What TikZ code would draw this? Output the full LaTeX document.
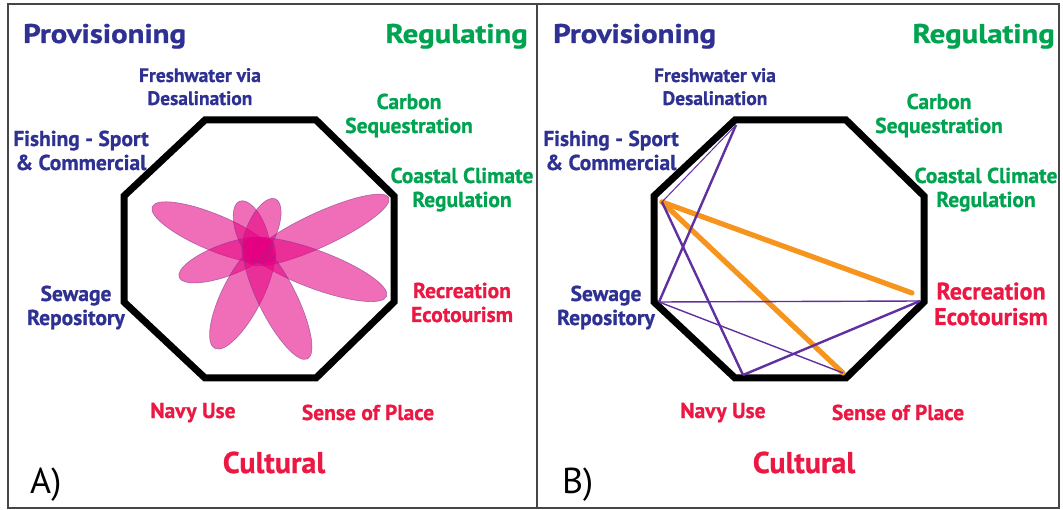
\documentclass[tikz,border=0pt]{standalone}
\usepackage{fontspec}
\setmainfont{PT Sans}[BoldFeatures={FakeBold=0.8}]
\definecolor{provblue}{RGB}{46,49,146}
\definecolor{reggreen}{RGB}{0,163,80}
\definecolor{cultred}{RGB}{236,24,68}
\definecolor{linepurple}{RGB}{96,48,160}
\definecolor{lineorange}{RGB}{247,148,29}
\definecolor{petalfill}{RGB}{230,0,130}
\definecolor{petaledge}{RGB}{120,60,140}
\definecolor{framegray}{RGB}{70,70,70}
\begin{document}
\begin{tikzpicture}[x=1pt,y=-1pt,
  lbl/.style={font=\fontsize{21.5}{24}\selectfont\bfseries, align=center, anchor=base, inner sep=0pt},
  smlbl/.style={font=\fontsize{19.5}{23}\selectfont\bfseries, align=center, anchor=base, inner sep=0pt},
  bigr/.style={font=\fontsize{24}{25.5}\selectfont\bfseries, align=center, anchor=base, inner sep=0pt},
  head/.style={font=\fontsize{27}{30}\selectfont\bfseries, inner sep=0pt},
  cult/.style={font=\fontsize{30}{34}\selectfont\bfseries, anchor=base, inner sep=0pt},
  panel/.style={font=\fontsize{36}{40}\selectfont, anchor=base west, inner sep=0pt},
  octa/.style={draw=black, line width=7pt, line join=miter},
  petal/.style={fill=petalfill, fill opacity=0.57, draw=petaledge, draw opacity=0.6, line width=0.6pt},
  thinp/.style={draw=linepurple, line width=1pt},
  midp/.style={draw=linepurple, line width=1.4pt},
  medp/.style={draw=linepurple, line width=2.4pt},
  orl/.style={draw=lineorange, line width=5.2pt, line cap=round}
]
\useasboundingbox (0,0) rectangle (1063,510);
\fill[white] (0,0) rectangle (1063,510);
% frames
\draw[framegray, line width=1.5pt] (8,4) rectangle (537,508);
\draw[framegray, line width=1.5pt] (537,4) rectangle (1059,508);

% ---------- Panel A ----------
\draw[octa] (205,120) -- (316,120) -- (394,196) -- (394,302) -- (316,378) -- (205,378) -- (124,302) -- (124,196) -- cycle;

% flower petals
\path[petal, rotate around={-22.7:(214,232.5)}] (214,232.5) ellipse [x radius=67, y radius=18];
\path[petal, rotate around={24.9:(319,230)}] (319,230) ellipse [x radius=77, y radius=17];
\path[petal, rotate around={20.3:(226,260)}] (226,260) ellipse [x radius=50, y radius=16];
\path[petal, rotate around={-20.6:(315.5,269.5)}] (315.5,269.5) ellipse [x radius=76, y radius=19];
\path[petal, rotate around={63:(242.5,294)}] (242.5,294) ellipse [x radius=61, y radius=20];
\path[petal, rotate around={-63.4:(277.5,299)}] (277.5,299) ellipse [x radius=67, y radius=19];
\path[petal, rotate around={-69:(251.5,232)}] (251.5,232) ellipse [x radius=33, y radius=15];
\path[petal, rotate around={66.5:(261.5,231)}] (261.5,231) ellipse [x radius=35, y radius=15];

\node[head, anchor=base west, text=provblue] (provA) at (23,43) {\scalebox{1.14}[1]{Provisioning}};
\node[head, anchor=base east, text=reggreen] (regA) at (528,43) {\scalebox{1.14}[1]{Regulating}};
\node[smlbl, text=provblue] (freshA) at (200,105) {Freshwater via\\Desalination};
\node[lbl, text=reggreen] (carbA) at (409,133) {Carbon\\Sequestration};
\node[lbl, text=provblue] (fishA) at (81,170) {Fishing - Sport\\\& Commercial};
\node[lbl, text=reggreen] (coastA) at (462,207) {Coastal Climate\\Regulation};
\node[lbl, text=provblue] (sewA) at (76,325) {Sewage\\Repository};
\node[lbl, text=cultred] (recA) at (462,322) {Recreation\\Ecotourism};
\node[lbl, text=cultred] (navyA) at (193,418) {Navy Use};
\node[lbl, text=cultred] (senseA) at (368,420) {Sense of Place};
\node[cult, text=cultred] (cultA) at (274,473) {Cultural};
\node[panel] (labA) at (30,493) {A)};

% ---------- Panel B ----------
\draw[octa] (735,120) -- (846,120) -- (924,196) -- (924,302) -- (846,378) -- (735,378) -- (654,302) -- (654,196) -- cycle;

\coordinate (F) at (662,202);
\coordinate (W) at (736,125);
\coordinate (S) at (659,302);
\coordinate (R1) at (912,293);
\coordinate (R) at (920,301);
\coordinate (N) at (743,375);
\coordinate (P) at (843,373);

\draw[orl] (F) -- (R1);
\draw[orl] (F) -- (P);
\draw[thinp] (F) -- (W);
\draw[medp] (W) -- (S);
\draw[medp] (F) -- (N);
\draw[midp] (S) -- (R);
\draw[midp] (S) -- (P);
\draw[medp] (N) -- (R);

\node[head, anchor=base west, text=provblue] (provB) at (553,43) {\scalebox{1.14}[1]{Provisioning}};
\node[head, anchor=base east, text=reggreen] (regB) at (1055,43) {\scalebox{1.14}[1]{Regulating}};
\node[smlbl, text=provblue] (freshB) at (715,105) {Freshwater via\\Desalination};
\node[lbl, text=reggreen] (carbB) at (939,133) {Carbon\\Sequestration};
\node[lbl, text=provblue] (fishB) at (611,170) {Fishing - Sport\\\& Commercial};
\node[lbl, text=reggreen] (coastB) at (986,207) {Coastal Climate\\Regulation};
\node[lbl, text=provblue] (sewB) at (606,325) {Sewage\\Repository};
\node[bigr, text=cultred] (recB) at (991,325) {Recreation\\Ecotourism};
\node[lbl, text=cultred] (navyB) at (723,418) {Navy Use};
\node[lbl, text=cultred] (senseB) at (898,420) {Sense of Place};
\node[cult, text=cultred] (cultB) at (804,473) {Cultural};
\node[panel] (labB) at (562,493) {B)};
\end{tikzpicture}
\end{document}
